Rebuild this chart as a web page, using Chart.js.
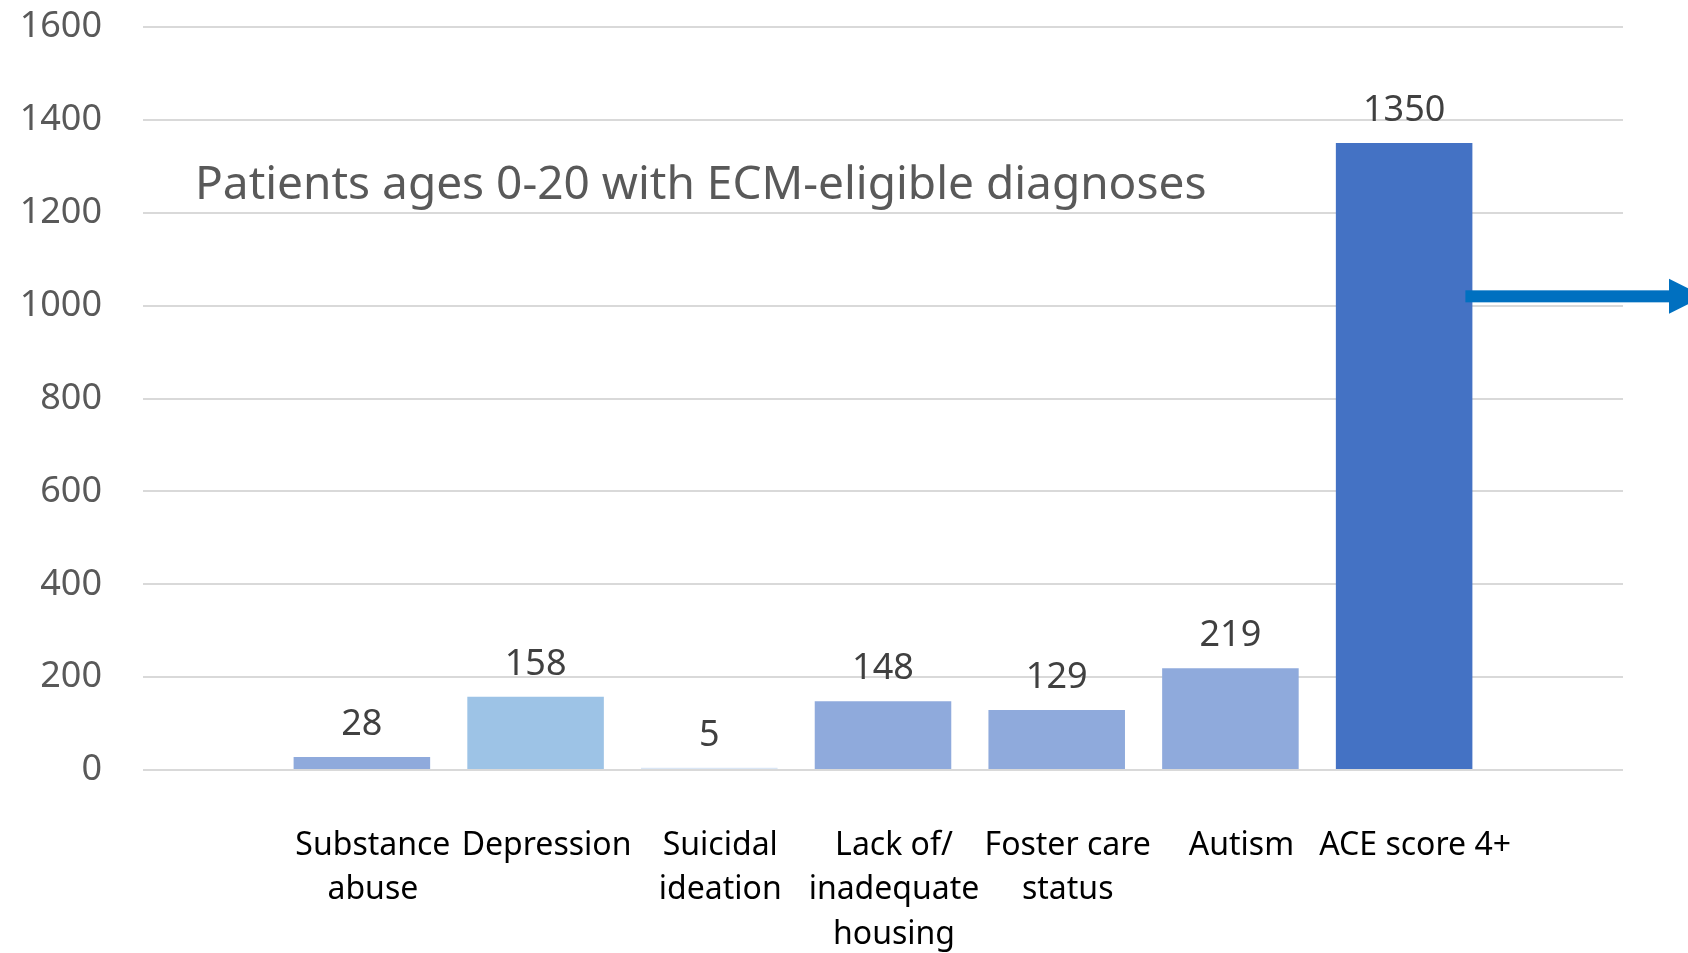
<!DOCTYPE html>
<html>
<head>
<meta charset="utf-8">
<script src="https://cdn.jsdelivr.net/npm/chart.js@4/dist/chart.umd.min.js"></script>
<style>
  html, body { margin: 0; padding: 0; background: #fff; overflow: hidden; }
  #wrap { width: 1688px; height: 953px; }
</style>
</head>
<body>
<div id="wrap"><canvas id="ecmChart"></canvas></div>
<script>
/* ── data ── */
const categories = [
  ['Substance', 'abuse'],
  ['Depression'],
  ['Suicidal', 'ideation'],
  ['Lack of/', 'inadequate', 'housing'],
  ['Foster care', 'status'],
  ['Autism'],
  ['ACE score 4+']
];
const patients  = [28, 158, 5, 148, 129, 219, 1350];
const barColors = ['#8FAADC', '#9DC3E6', '#DAE6F5', '#8FAADC', '#8FAADC', '#8FAADC', '#4472C4'];
const yTicks    = [0, 200, 400, 600, 800, 1000, 1200, 1400, 1600];
const chartTitle = 'Patients ages 0-20 with ECM-eligible diagnoses';
const titleLevel = 1230;   // y value where the in-plot title sits
const arrowLevel = 1020;   // y value of the arrow on the right

/* ── defaults ── */
Chart.defaults.font.family = "'Noto Sans', sans-serif";
Chart.defaults.plugins.legend.display = false;
Chart.defaults.plugins.tooltip.enabled = false;

const FONT = "'Noto Sans', sans-serif";

const valueLabels = {
  id: 'valueLabels',
  afterDatasetsDraw(chart) {
    const ctx = chart.ctx;
    ctx.save();
    ctx.font = '36px ' + FONT;
    ctx.fillStyle = '#404040';
    ctx.textAlign = 'center';
    ctx.textBaseline = 'alphabetic';
    chart.getDatasetMeta(0).data.forEach((bar, i) => {
      ctx.fillText(String(patients[i]), bar.x, bar.y - 22);
    });
    ctx.restore();
  }
};

const plotTitle = {
  id: 'plotTitle',
  afterDraw(chart) {
    const ctx = chart.ctx;
    ctx.save();
    ctx.font = '46px ' + FONT;
    ctx.fillStyle = '#595959';
    ctx.textAlign = 'left';
    ctx.textBaseline = 'alphabetic';
    ctx.fillText(chartTitle, chart.chartArea.left + 52, chart.scales.y.getPixelForValue(titleLevel));
    ctx.restore();
  }
};

const sideArrow = {
  id: 'sideArrow',
  afterDraw(chart) {
    const ctx = chart.ctx;
    const bar = chart.getDatasetMeta(0).data[patients.length - 1];
    const y = chart.scales.y.getPixelForValue(arrowLevel);
    const x0 = bar.x + bar.width / 2 - 7;
    const tip = chart.width + 16;
    ctx.save();
    ctx.fillStyle = '#0070C0';
    ctx.fillRect(x0, y - 6, (tip - 35) - x0, 12);
    ctx.beginPath();
    ctx.moveTo(tip - 35, y - 17.5);
    ctx.lineTo(tip, y);
    ctx.lineTo(tip - 35, y + 17.5);
    ctx.closePath();
    ctx.fill();
    ctx.restore();
  }
};

new Chart(document.getElementById('ecmChart'), {
  type: 'bar',
  data: {
    datasets: [{
      data: patients.map((v, i) => ({ x: i + 1, y: v })),
      backgroundColor: barColors,
      borderWidth: 0,
      barPercentage: 0.786,
      categoryPercentage: 1
    }]
  },
  options: {
    responsive: true,
    maintainAspectRatio: false,
    animation: false,
    layout: { padding: { top: 27, right: 65, left: 0, bottom: 0 } },
    scales: {
      x: {
        type: 'linear',
        offset: false,
        min: 1 - 1.26,
        max: patients.length + 1.26,
        grid: { display: false },
        border: { display: false },
        afterBuildTicks: s => { s.ticks = patients.map((_, i) => ({ value: i + 1 })); },
        afterFit: s => { s.height = 183; },
        ticks: {
          autoSkip: false,
          maxRotation: 0,
          minRotation: 0,
          padding: 45,
          labelOffset: 11,
          color: '#000',
          font: { size: 32, lineHeight: 1.4 },
          callback: (v, i) => categories[i]
        }
      },
      y: {
        min: 0,
        max: 1600,
        border: { display: false },
        grid: { color: '#D9D9D9', lineWidth: 2, drawTicks: true, tickLength: 41, tickColor: 'rgba(0,0,0,0)' },
        afterBuildTicks: s => { s.ticks = yTicks.map(v => ({ value: v })); },
        afterFit: s => { s.width = 143; },
        ticks: { padding: 0, color: '#595959', font: { size: 36 }, callback: v => String(v) }
      }
    }
  },
  plugins: [valueLabels, plotTitle, sideArrow]
});
</script>
</body>
</html>
